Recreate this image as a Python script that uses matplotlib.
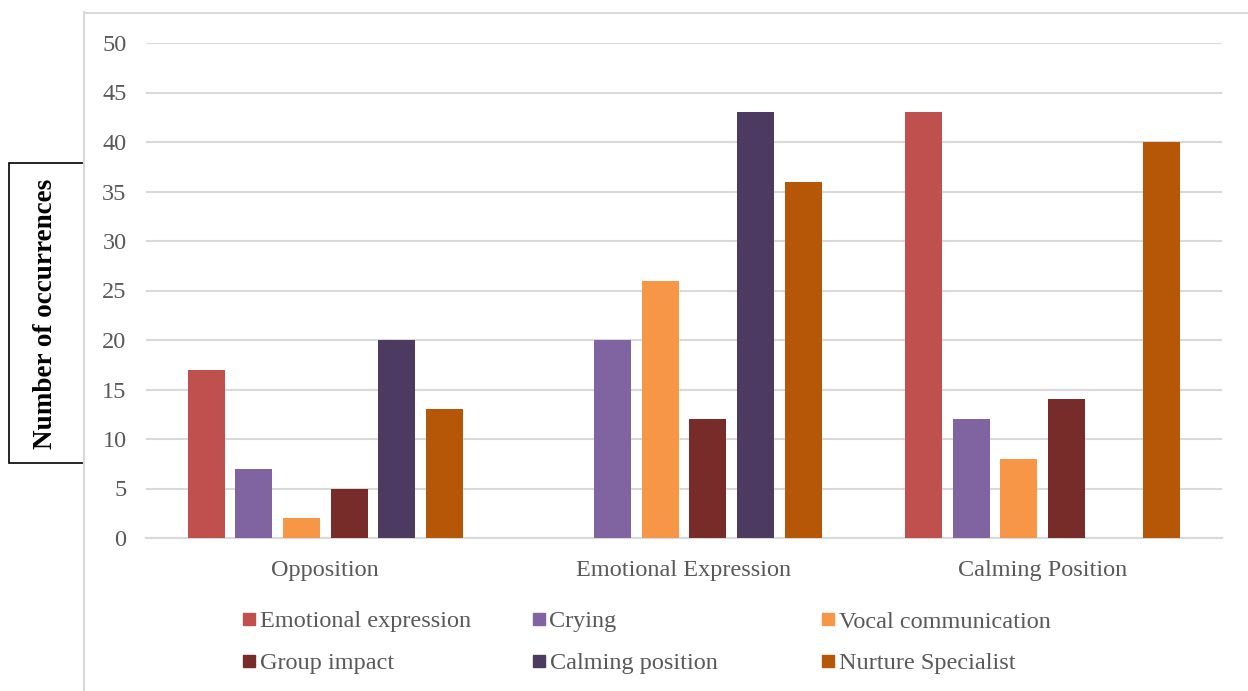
import numpy as np
import matplotlib
matplotlib.use('Agg')
import matplotlib.pyplot as plt
from matplotlib.patches import Rectangle

plt.rcParams['font.family'] = ['Liberation Serif', 'DejaVu Serif']

categories = ['Opposition', 'Emotional Expression', 'Calming Position']
series_names = ['Emotional expression', 'Crying', 'Vocal communication',
                'Group impact', 'Calming position', 'Nurture Specialist']
series_colors = ['#C0504D', '#8064A2', '#F79646', '#772C2A', '#4D3A60', '#B65708']

emotional_expression = [17, 0, 43]
crying = [7, 20, 12]
vocal_communication = [2, 26, 8]
group_impact = [5, 12, 14]
calming_position = [20, 43, 0]
nurture_specialist = [13, 36, 40]
series_values = [emotional_expression, crying, vocal_communication,
                 group_impact, calming_position, nurture_specialist]

W, H = 1248, 691
fig = plt.figure(figsize=(W / 100, H / 100), dpi=100)

def fx(px):
    return px / W

def fy(py):
    return 1 - py / H

ax = fig.add_axes([fx(146), fy(538), fx(1222) - fx(146), fy(43) - fy(538)])

x = np.arange(len(categories))
step = 0.133
width = 0.103
for i, (vals, color) in enumerate(zip(series_values, series_colors)):
    offset = (i - 2.5) * step
    ax.bar(x + offset, vals, width=width, color=color, zorder=3)

ax.set_xlim(-0.5, 2.5)
ax.set_ylim(0, 50)
ax.set_yticks(range(0, 51, 5))
ax.set_xticks(x)
ax.set_xticklabels(categories)
ax.yaxis.grid(True, color='#D9D9D9', linewidth=1.5, zorder=0)
ax.set_axisbelow(True)
for side in ['top', 'right', 'left']:
    ax.spines[side].set_visible(False)
ax.spines['bottom'].set_color('#D9D9D9')
ax.spines['bottom'].set_linewidth(1.5)
ax.tick_params(axis='both', length=0, labelsize=17.5, labelcolor='#595959')
ax.tick_params(axis='y', pad=14)
ax.tick_params(axis='x', pad=15.5)

# chart area border (left and top edges)
fig.add_artist(plt.Line2D([fx(84), fx(84)], [fy(12), 0], color='#D9D9D9', lw=1.5))
fig.add_artist(plt.Line2D([fx(84), 1], [fy(13), fy(13)], color='#D9D9D9', lw=1.5))

# boxed y-axis title
fig.add_artist(Rectangle((fx(9), fy(463)), fx(84) - fx(9), fy(163) - fy(463),
                         transform=fig.transFigure, fill=False,
                         edgecolor='black', lw=1.2))
fig.text(fx(46), fy(314), 'Number of occurrences', rotation=90,
         ha='center', va='center', fontsize=19.5, fontweight='bold')

# legend in two rows of three equal-width columns
for i, (name, color) in enumerate(zip(series_names, series_colors)):
    col, row = i % 3, i // 3
    lx = 243 + 289.5 * col
    ly = 619 + 42 * row
    fig.add_artist(Rectangle((fx(lx), fy(ly + 6)), fx(12), 12 / H,
                             transform=fig.transFigure, color=color))
    fig.text(fx(lx + 17), fy(ly + 3), name, ha='left', va='center',
             fontsize=17.5, color='#595959')

plt.savefig('out.png', dpi=100)
plt.close()
